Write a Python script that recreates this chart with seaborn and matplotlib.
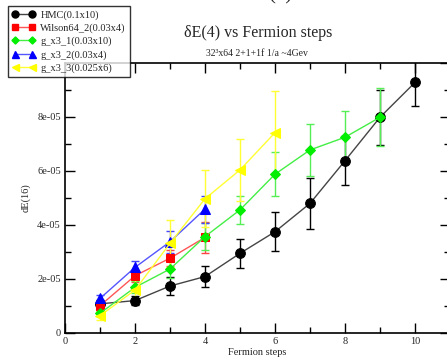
import numpy as np
import pandas as pd
import seaborn as sns
import matplotlib.pyplot as plt
from matplotlib.lines import Line2D
from matplotlib.ticker import MultipleLocator, FuncFormatter

# 数据
hmc_steps = [1, 2, 3, 4, 5, 6, 7, 8, 9, 10]
hmc_vals = [1.08e-5, 1.20e-5, 1.74e-5, 2.09e-5, 2.95e-5, 3.75e-5, 4.80e-5, 6.38e-5, 7.99e-5, 9.28e-5]
hmc_errs = [0.15e-5, 0.18e-5, 0.32e-5, 0.39e-5, 0.53e-5, 0.72e-5, 0.95e-5, 0.91e-5, 1.02e-5, 0.86e-5]

wil_steps = [1, 2, 3, 4]
wil_vals = [1.01e-5, 2.12e-5, 2.77e-5, 3.54e-5]
wil_errs = [0.15e-5, 0.23e-5, 0.30e-5, 0.57e-5]

g1_steps = [1, 2, 3, 4, 5, 6, 7, 8, 9]
g1_vals = [0.73e-5, 1.69e-5, 2.37e-5, 3.57e-5, 4.56e-5, 5.88e-5, 6.78e-5, 7.25e-5, 7.99e-5]
g1_errs = [0.10e-5, 0.22e-5, 0.34e-5, 0.49e-5, 0.51e-5, 0.81e-5, 0.96e-5, 0.97e-5, 1.07e-5]

g2_steps = [1, 2, 3, 4]
g2_vals = [1.28e-5, 2.43e-5, 3.38e-5, 4.59e-5]
g2_errs = [0.14e-5, 0.24e-5, 0.40e-5, 0.50e-5]

g3_steps = [1, 2, 3, 4, 5, 6]
g3_vals = [0.64e-5, 1.59e-5, 3.32e-5, 4.97e-5, 6.04e-5, 7.42e-5]
g3_errs = [0.17e-5, 0.36e-5, 0.86e-5, 1.05e-5, 1.16e-5, 1.56e-5]

# 名称, x, y, 误差, 标记颜色, 线颜色, 误差线颜色, 标记, 大小
series = [
    ('HMC(0.1x10)', hmc_steps, hmc_vals, hmc_errs, '#000000', '#444444', '#000000', 'o', 7.0),
    ('Wilson64_2(0.03x4)', wil_steps, wil_vals, wil_errs, '#ff0000', '#ff5555', '#ff4444', 's', 6.0),
    ('g_x3_1(0.03x10)', g1_steps, g1_vals, g1_errs, '#00ee00', '#44ee44', '#55ee55', 'D', 5.0),
    ('g_x3_2(0.03x4)', g2_steps, g2_vals, g2_errs, '#0000ff', '#5555ff', '#4444ff', '^', 7.0),
    ('g_x3_3(0.025x6)', g3_steps, g3_vals, g3_errs, '#ffff00', '#ffff33', '#ffff33', '<', 7.0),
]

sns.set_style('ticks')
plt.rcParams['font.family'] = ['Liberation Serif', 'DejaVu Serif']

W, H = 447, 360
fig = plt.figure(figsize=(W / 100, H / 100), dpi=100)
ax = fig.add_axes([65 / W, 27 / H, 385 / W, 270 / H])

handles = []
for name, xs, ys, es, mc, lc, ec, mk, ms in series:
    df = pd.DataFrame({'step': xs, 'val': ys})
    ax.errorbar(xs, ys, yerr=es, fmt='none', ecolor=ec, elinewidth=1.0,
                capsize=2.8, capthick=1.0, zorder=2)
    sns.lineplot(data=df, x='step', y='val', ax=ax, color=lc, linewidth=1.0,
                 marker=mk, markersize=ms, markerfacecolor=mc,
                 markeredgecolor=mc, zorder=3)
    handles.append(Line2D([], [], color=lc, linewidth=1.0, marker=mk,
                          markersize=ms * 0.72, markerfacecolor=mc, markeredgecolor=mc))

ax.set_xlim(0, 11)
ax.set_ylim(0, 1e-4)
ax.xaxis.set_major_locator(MultipleLocator(2))
ax.xaxis.set_minor_locator(MultipleLocator(1))
ax.yaxis.set_major_locator(MultipleLocator(2e-5))
ax.yaxis.set_minor_locator(MultipleLocator(1e-5))


def ylab(v, p):
    if abs(v) < 1e-12:
        return '0'
    if v > 9e-5:
        return ''  # 被图例挡住
    return f'{v:.0e}'


ax.yaxis.set_major_formatter(FuncFormatter(ylab))
ax.tick_params(which='both', direction='in', top=True, right=True,
               labelsize=7.5, width=1.0, color='black', pad=3)
ax.tick_params(which='major', length=7)
ax.tick_params(which='minor', length=4)
for s in ax.spines.values():
    s.set_linewidth(1.2)
    s.set_color('black')

ax.set_xlabel('Fermion steps', fontsize=7.5, labelpad=1)
ax.set_ylabel('dE(16)', fontsize=7.5, labelpad=5)

fig.text(258 / W, 1 - 33 / H, 'δE(4) vs Fermion steps', ha='center', va='center', fontsize=11.5)
fig.text(257 / W, 1 - 53 / H, '32³x64 2+1+1f 1/a ~4Gev', ha='center', va='center', fontsize=7)
fig.text(280 / W, 1 + 1 / H, '(4)', ha='center', va='baseline', fontsize=15)

leg = ax.legend(handles, [s[0] for s in series], numpoints=2, loc='upper left',
                bbox_to_anchor=(8 / W, 1 - 6 / H), bbox_transform=fig.transFigure,
                borderaxespad=0, fontsize=7.5, frameon=True, fancybox=False,
                handlelength=2.2, handletextpad=0.5, labelspacing=0.35,
                borderpad=0.4)
leg.get_frame().set_edgecolor('black')
leg.get_frame().set_linewidth(1.0)
leg.set_zorder(10)

fig.savefig('out.png', dpi=100)
